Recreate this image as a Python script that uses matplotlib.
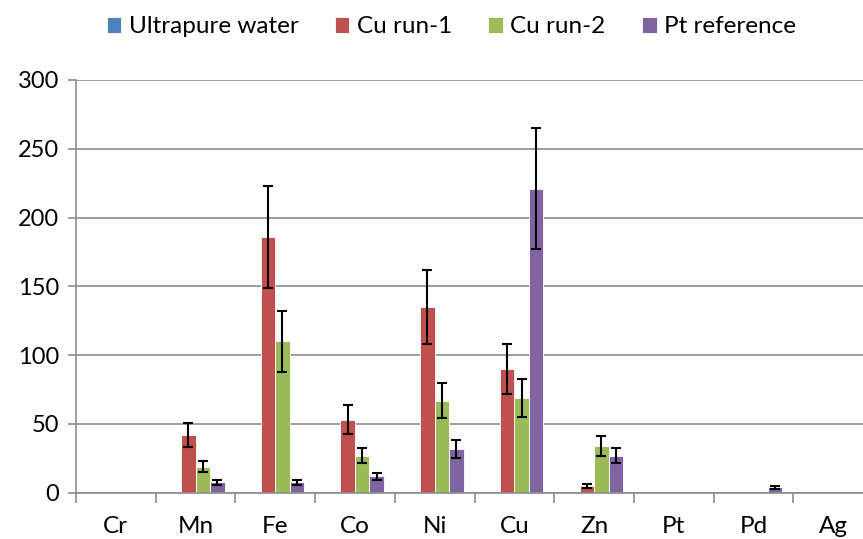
import numpy as np
import matplotlib.pyplot as plt
from matplotlib.ticker import FixedLocator

elements = ['Cr', 'Mn', 'Fe', 'Co', 'Ni', 'Cu', 'Zn', 'Pt', 'Pd', 'Ag']
series = ['Ultrapure water', 'Cu run-1', 'Cu run-2', 'Pt reference']
colors = ['#4F81BD', '#C0504D', '#9BBB59', '#8064A2']

water = [0, 0, 0, 0, 0, 0, 0, 0, 0, 0]
water_err = [0, 0, 0, 0, 0, 0, 0, 0, 0, 0]
cu_run1 = [0, 42, 186, 53, 135, 90, 5, 0, 0, 0]
cu_run1_err = [0, 8.5, 37, 10.5, 27, 18, 1.5, 0, 0, 0]
cu_run2 = [0, 19, 110, 27, 67, 69, 34, 0, 0, 0]
cu_run2_err = [0, 4, 22, 5.5, 13, 14, 7, 0, 0, 0]
pt_ref = [0, 7.5, 7.5, 12, 32, 221, 27, 0, 4, 0]
pt_ref_err = [0, 2, 2, 2.5, 6.5, 44, 5.5, 0, 1, 0]

values = [water, cu_run1, cu_run2, pt_ref]
errors = [water_err, cu_run1_err, cu_run2_err, pt_ref_err]

plt.rcParams['font.family'] = ['Lato', 'DejaVu Sans']

fig = plt.figure(figsize=(8.63, 5.39), dpi=100)
ax = fig.add_axes([76 / 863, 46.3 / 539, 797 / 863, 412.7 / 539])

x = np.arange(len(elements))
width = 1 / 5.5
for i, (name, vals, errs, c) in enumerate(zip(series, values, errors, colors)):
    pos = x + (i - 1.5) * width
    ax.bar(pos, vals, width, color=c, edgecolor='white', linewidth=0.6,
           label=name, zorder=2)
    show = [j for j in range(len(vals)) if errs[j] > 0]
    if show:
        ax.errorbar(pos[show], np.array(vals)[show], yerr=np.array(errs)[show],
                    fmt='none', ecolor='black', elinewidth=1.5, capsize=3.5,
                    capthick=1.5, zorder=3)

ax.set_xlim(-0.5, len(elements) - 0.5)
ax.set_ylim(0, 300)
ax.set_yticks([0, 50, 100, 150, 200, 250, 300])
ax.set_xticks(x)
ax.set_xticklabels(elements)
ax.xaxis.set_minor_locator(FixedLocator(np.arange(-0.5, len(elements), 1.0)))

ax.grid(axis='y', color='#8c8c8c', linewidth=1.2, zorder=0)
ax.set_axisbelow(True)
for s in ['top', 'right']:
    ax.spines[s].set_visible(False)
for s in ['left', 'bottom']:
    ax.spines[s].set_color('#8c8c8c')
    ax.spines[s].set_linewidth(1.2)

ax.tick_params(axis='y', length=6, width=1.2, color='#8c8c8c', labelsize=17, pad=6)
ax.tick_params(axis='x', which='major', length=0, labelsize=17.5, pad=17)
ax.tick_params(axis='x', which='minor', length=7, width=1.2, color='#8c8c8c')

fig.legend(loc='upper center', bbox_to_anchor=(0.523, 1.01), ncol=4,
           frameon=False, fontsize=17.5, handlelength=0.6, handleheight=0.6,
           handletextpad=0.3, columnspacing=1.5)

fig.savefig('out.png', dpi=100)
